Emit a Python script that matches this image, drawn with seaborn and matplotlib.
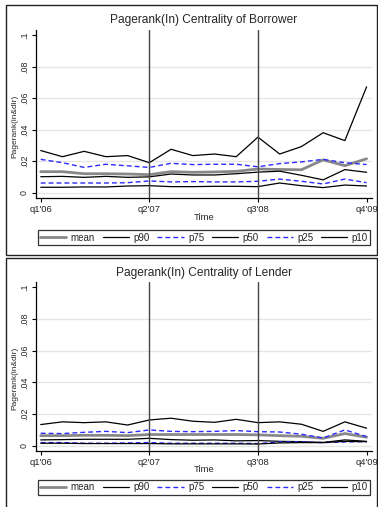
import numpy as np
import pandas as pd
import matplotlib
matplotlib.use("Agg")
import matplotlib.pyplot as plt
from matplotlib.patches import Rectangle
import seaborn as sns

# ---------------- data ----------------
quarters = list(range(16))
tick_pos = [0, 5, 10, 15]
tick_labels = ["q1'06", "q2'07", "q3'08", "q4'09"]
ytick_vals = [0, 0.02, 0.04, 0.06, 0.08, 0.1]
ytick_labels = ["0", ".02", ".04", ".06", ".08", ".1"]
vlines_at = [5, 10]
series_names = ["mean", "p90", "p75", "p50", "p25", "p10"]

borrower_mean = [0.0133, 0.0133, 0.0120, 0.0120, 0.0118, 0.0114, 0.0133, 0.0129, 0.0131, 0.0135, 0.0150, 0.0147, 0.0145, 0.0208, 0.0171, 0.0215]
borrower_p90 = [0.0267, 0.0228, 0.0262, 0.0228, 0.0235, 0.0190, 0.0275, 0.0235, 0.0245, 0.0228, 0.0352, 0.0245, 0.0292, 0.0380, 0.0330, 0.0671]
borrower_p75 = [0.0211, 0.0190, 0.0160, 0.0180, 0.0170, 0.0160, 0.0186, 0.0178, 0.0180, 0.0180, 0.0164, 0.0184, 0.0195, 0.0211, 0.0190, 0.0178]
borrower_p50 = [0.0101, 0.0103, 0.0097, 0.0103, 0.0097, 0.0100, 0.0118, 0.0112, 0.0112, 0.0120, 0.0130, 0.0136, 0.0110, 0.0081, 0.0146, 0.0129]
borrower_p25 = [0.0061, 0.0061, 0.0061, 0.0061, 0.0063, 0.0074, 0.0068, 0.0070, 0.0068, 0.0068, 0.0072, 0.0086, 0.0072, 0.0055, 0.0086, 0.0063]
borrower_p10 = [0.0034, 0.0034, 0.0036, 0.0036, 0.0042, 0.0044, 0.0038, 0.0038, 0.0040, 0.0040, 0.0038, 0.0061, 0.0044, 0.0032, 0.0048, 0.0042]

lender_mean = [0.0063, 0.0063, 0.0065, 0.0065, 0.0063, 0.0070, 0.0070, 0.0070, 0.0070, 0.0070, 0.0068, 0.0063, 0.0059, 0.0046, 0.0076, 0.0053]
lender_p90 = [0.0133, 0.0150, 0.0145, 0.0150, 0.0130, 0.0162, 0.0173, 0.0154, 0.0147, 0.0166, 0.0145, 0.0150, 0.0135, 0.0090, 0.0150, 0.0110]
lender_p75 = [0.0078, 0.0076, 0.0084, 0.0090, 0.0082, 0.0099, 0.0090, 0.0088, 0.0090, 0.0095, 0.0088, 0.0086, 0.0072, 0.0048, 0.0099, 0.0057]
lender_p50 = [0.0036, 0.0038, 0.0040, 0.0040, 0.0040, 0.0046, 0.0038, 0.0034, 0.0036, 0.0030, 0.0032, 0.0027, 0.0025, 0.0020, 0.0036, 0.0027]
lender_p25 = [0.0019, 0.0019, 0.0015, 0.0015, 0.0017, 0.0019, 0.0015, 0.0015, 0.0015, 0.0015, 0.0013, 0.0023, 0.0023, 0.0019, 0.0023, 0.0025]
lender_p10 = [0.0015, 0.0015, 0.0013, 0.0013, 0.0013, 0.0013, 0.0011, 0.0011, 0.0011, 0.0011, 0.0010, 0.0017, 0.0019, 0.0019, 0.0027, 0.0025]

titles = ["Pagerank(In) Centrality of Borrower", "Pagerank(In) Centrality of Lender"]
ylabel = "Pagerank(in&dir)"
xlabel = "Time"

# ---------------- style ----------------
sns.set_style("white")
plt.rcParams["font.family"] = ["Liberation Sans", "DejaVu Sans"]

styles = {
    "mean": dict(color="#888888", lw=2.0, ls="-"),
    "p90": dict(color="black", lw=0.9, ls="-"),
    "p75": dict(color="#2b2bff", lw=1.0, ls=(0, (3.5, 2.2))),
    "p50": dict(color="black", lw=0.9, ls="-"),
    "p25": dict(color="#2b2bff", lw=1.0, ls=(0, (3.5, 2.2))),
    "p10": dict(color="black", lw=0.9, ls="-"),
}

W, H = 378, 507
fig = plt.figure(figsize=(W / 100, H / 100), dpi=100)
fig.patch.set_facecolor("white")


def fx(px):
    return px / W


def fy(py):
    return 1 - py / H


panels = [
    dict(data=[borrower_mean, borrower_p90, borrower_p75, borrower_p50, borrower_p25, borrower_p10],
         frame=(6, 5, 377, 255), top=29.5, bottom=198.3, ytop=0.1035, ybot=-0.0036,
         title_y=20, xlabel_y=217, legend_y=237.5, ylabel_y=126),
    dict(data=[lender_mean, lender_p90, lender_p75, lender_p50, lender_p25, lender_p10],
         frame=(6, 258, 377, 520), top=281.7, bottom=451.0, ytop=0.1035, ybot=-0.0034,
         title_y=273, xlabel_y=469.5, legend_y=487.5, ylabel_y=378),
]

left_px, right_px = 35.5, 372

for i, p in enumerate(panels):
    x0, y0, x1, y1 = p["frame"]
    fig.patches.append(Rectangle((fx(x0), fy(y1)), fx(x1) - fx(x0), fy(y0) - fy(y1),
                                 transform=fig.transFigure, fill=False,
                                 edgecolor="#222222", lw=1.0, zorder=0))
    ax = fig.add_axes([fx(left_px), fy(p["bottom"]), fx(right_px) - fx(left_px),
                       (p["bottom"] - p["top"]) / H])
    ax.set_facecolor("white")
    df = pd.DataFrame({"q": quarters})
    for name, vals in zip(series_names, p["data"]):
        df[name] = vals
    long = df.melt(id_vars="q", var_name="series", value_name="v")
    for name in series_names:
        st = styles[name]
        sns.lineplot(data=long[long["series"] == name], x="q", y="v", ax=ax,
                     color=st["color"], lw=st["lw"], linestyle=st["ls"], label=name,
                     legend=False, zorder=3)
    for xv in vlines_at:
        ax.axvline(xv, color="#444444", lw=1.0, zorder=4)
    for yv in ytick_vals[:-1]:
        ax.axhline(yv, color="#e6e6e6", lw=1.0, zorder=1)
    ax.set_xlim(-0.24, 15.25)
    ax.set_ylim(p["ybot"], p["ytop"])
    ax.set_xticks(tick_pos)
    ax.set_xticklabels(tick_labels, fontsize=6.8)
    ax.set_yticks(ytick_vals)
    ax.set_yticklabels(ytick_labels, fontsize=6.4, rotation=90, va="center")
    ax.tick_params(axis="both", length=2.9, width=0.8, color="black", pad=2.0,
                   left=True, bottom=True)
    for s in ["top", "right"]:
        ax.spines[s].set_visible(False)
    for s in ["left", "bottom"]:
        ax.spines[s].set_color("black")
        ax.spines[s].set_linewidth(0.9)
    ax.set_xlabel("")
    ax.set_ylabel("")
    fig.text(fx(204), fy(p["title_y"]), titles[i], ha="center", va="center",
             fontsize=8.6)
    fig.text(fx(204), fy(p["xlabel_y"]), xlabel, ha="center", va="center", fontsize=6.8)
    fig.text(fx(15), fy(p["ylabel_y"]), ylabel, ha="center", va="center", fontsize=6,
             rotation=90)
    handles, labels = ax.get_legend_handles_labels()
    leg = fig.legend(handles, labels, loc="center", ncol=6,
                     bbox_to_anchor=(fx(204), fy(p["legend_y"])),
                     bbox_transform=fig.transFigure, fontsize=7, frameon=True,
                     fancybox=False, edgecolor="black", handlelength=2.7,
                     handletextpad=0.45, columnspacing=0.8, borderpad=0.25,
                     borderaxespad=0)
    leg.get_frame().set_linewidth(0.9)

fig.savefig("out.png", dpi=100, facecolor="white")
